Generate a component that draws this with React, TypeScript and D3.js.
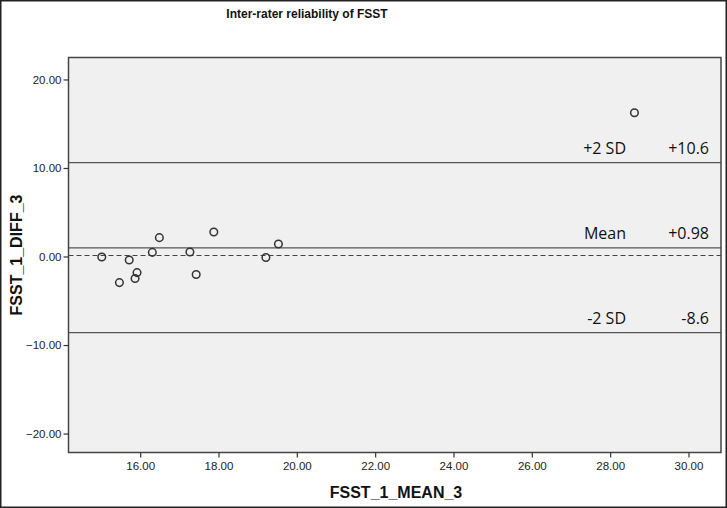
import React, { useEffect, useRef } from 'react';
import * as d3 from 'd3';

// Bland-Altman data
const meanValues = [15.02, 15.47, 15.72, 15.92, 15.87, 16.31, 16.49, 17.27, 17.43, 17.88, 19.21, 19.53, 28.62];
const diffValues = [-0.06, -2.95, -0.4, -1.82, -2.49, 0.47, 2.13, 0.51, -2.04, 2.77, -0.12, 1.41, 16.24];

const xTicks = [16, 18, 20, 22, 24, 26, 28, 30];
const yTicks = [20, 10, 0, -10, -20];

const refLines = [
  { value: 10.6, name: '+2 SD', label: '+10.6' },
  { value: 0.98, name: 'Mean', label: '+0.98' },
  { value: -8.6, name: '-2 SD', label: '-8.6' },
];
const zeroLine = 0;

const App = () => {
  const svgRef = useRef<SVGSVGElement>(null);

  useEffect(() => {
    const svg = d3.select(svgRef.current);
    svg.selectAll('*').remove();

    const W = 727, H = 508;
    const left = 68.5, right = 721, top = 57.5, bottom = 452.5;

    svg.append('rect')
      .attr('x', 0.75).attr('y', 0.75)
      .attr('width', W - 1.5).attr('height', H - 1.5)
      .attr('fill', '#fff')
      .attr('stroke', '#222')
      .attr('stroke-width', 1.5);

    const x = d3.scaleLinear().domain([14.17, 30.83]).range([left, right]);
    const y = d3.scaleLinear().domain([-22.14, 22.48]).range([bottom, top]);

    // plot area
    svg.append('rect')
      .attr('x', left).attr('y', top)
      .attr('width', right - left).attr('height', bottom - top)
      .attr('fill', '#f0f0f0');

    // reference lines
    svg.selectAll('.ref')
      .data(refLines)
      .enter()
      .append('line')
      .attr('x1', left).attr('x2', right)
      .attr('y1', d => y(d.value)).attr('y2', d => y(d.value))
      .attr('stroke', '#555')
      .attr('stroke-width', 1.4);

    svg.append('line')
      .attr('x1', left).attr('x2', right)
      .attr('y1', y(zeroLine) - 1).attr('y2', y(zeroLine) - 1)
      .attr('stroke', '#444')
      .attr('stroke-width', 1.2)
      .attr('stroke-dasharray', '5,3');

    // line labels
    const lab = svg.append('g')
      .style('font-family', '"Open Sans", "Liberation Sans", sans-serif')
      .style('font-size', '16px')
      .attr('fill', '#111');
    lab.selectAll('.nm')
      .data(refLines)
      .enter()
      .append('text')
      .attr('x', 626)
      .attr('y', d => y(d.value) - 9)
      .attr('text-anchor', 'end')
      .text(d => d.name);
    lab.selectAll('.vl')
      .data(refLines)
      .enter()
      .append('text')
      .attr('x', 709)
      .attr('y', d => y(d.value) - 9)
      .attr('text-anchor', 'end')
      .text(d => d.label);

    // points
    svg.selectAll('.pt')
      .data(meanValues.map((m, i) => [m, diffValues[i]]))
      .enter()
      .append('circle')
      .attr('cx', d => x(d[0]))
      .attr('cy', d => y(d[1]))
      .attr('r', 3.8)
      .attr('fill', 'none')
      .attr('stroke', '#333')
      .attr('stroke-width', 1.5);

    // plot frame
    svg.append('rect')
      .attr('x', left).attr('y', top)
      .attr('width', right - left).attr('height', bottom - top)
      .attr('fill', 'none')
      .attr('stroke', '#444')
      .attr('stroke-width', 1.5);

    // axes
    const xAxis = svg.append('g')
      .attr('transform', `translate(0,${bottom})`)
      .call(d3.axisBottom(x).tickValues(xTicks).tickFormat(d3.format('.2f')).tickSizeOuter(0).tickSize(5).tickPadding(4));
    const yAxis = svg.append('g')
      .attr('transform', `translate(${left},0)`)
      .call(d3.axisLeft(y).tickValues(yTicks).tickFormat(d3.format('.2f')).tickSizeOuter(0).tickSize(5).tickPadding(2));

    [xAxis, yAxis].forEach(a => {
      a.select('.domain').remove();
      a.selectAll('.tick line').attr('stroke', '#333').attr('stroke-width', 1.2);
      a.selectAll('.tick text')
        .attr('fill', '#222')
        .style('font-family', '"Liberation Sans", Arial, sans-serif')
        .style('font-size', '11.5px');
    });

    // titles
    svg.append('text')
      .attr('x', 307).attr('y', 18)
      .attr('text-anchor', 'middle')
      .style('font-family', '"Liberation Sans", Arial, sans-serif')
      .style('font-size', '12px')
      .style('font-weight', 'bold')
      .attr('fill', '#111')
      .text('Inter-rater reliability of FSST');

    svg.append('text')
      .attr('x', 396).attr('y', 498)
      .attr('text-anchor', 'middle')
      .style('font-family', '"Liberation Sans", Arial, sans-serif')
      .style('font-size', '16px')
      .style('font-weight', 'bold')
      .attr('fill', '#111')
      .text('FSST_1_MEAN_3');

    svg.append('text')
      .attr('transform', `translate(22,${(top + bottom) / 2}) rotate(-90)`)
      .attr('text-anchor', 'middle')
      .style('font-family', '"Liberation Sans", Arial, sans-serif')
      .style('font-size', '16px')
      .style('font-weight', 'bold')
      .attr('fill', '#111')
      .text('FSST_1_DIFF_3');
  }, []);

  return (
    <svg
      ref={svgRef}
      width={727}
      height={508}
      style={{ position: 'absolute', left: 0, top: 0, display: 'block' }}
    />
  );
};

export default App;
